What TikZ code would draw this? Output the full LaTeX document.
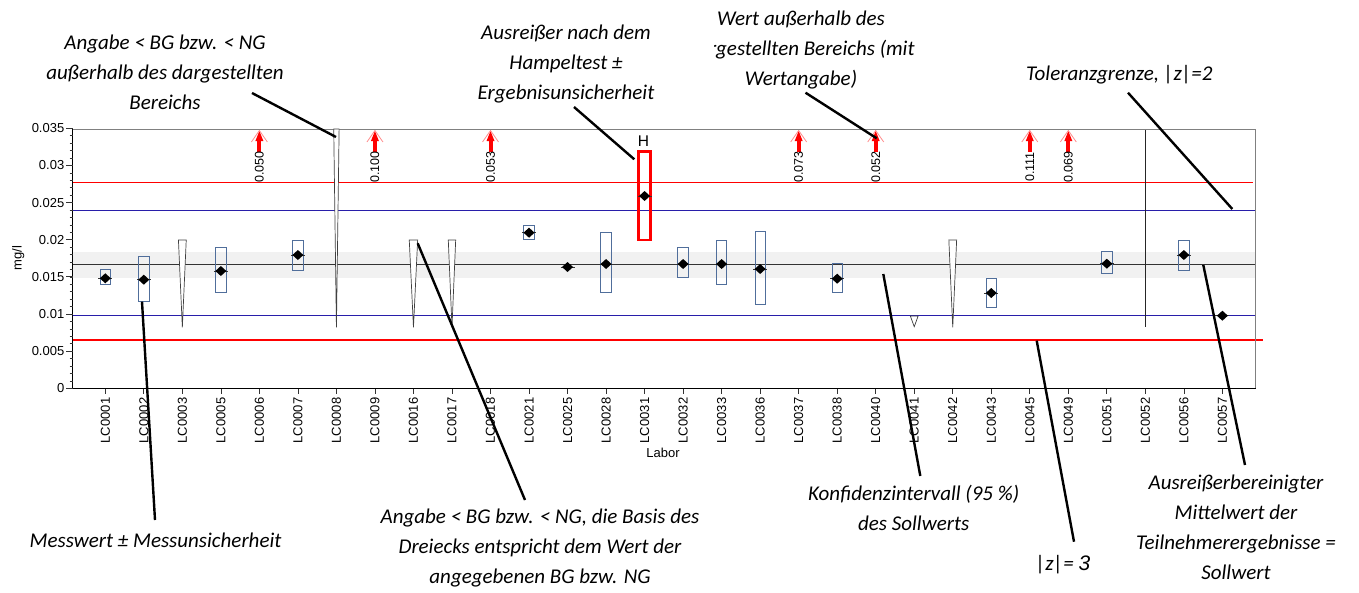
\documentclass[tikz,border=0pt]{standalone}
\usepackage{fontspec}
\setmainfont{Carlito}
\newfontfamily\axisfont{Liberation Sans}
\usetikzlibrary{calc}
\definecolor{zblue}{RGB}{40,30,170}
\definecolor{boxblue}{RGB}{80,110,155}
\definecolor{bandgray}{RGB}{241,241,241}
\pgfmathdeclarefunction{cx}{1}{\pgfmathparse{105.3+38.52*#1}}
\newcommand\mkdia[2]{%
  \draw[black!80,line width=0.6pt] ({cx(#1)-7},#2) -- ({cx(#1)+7},#2);
  \fill[black] ({cx(#1)},{#2-5}) -- ({cx(#1)+5.5},#2) -- ({cx(#1)},{#2+5}) -- ({cx(#1)-5.5},#2) -- cycle;}
\newcommand\mkbox[4]{%
  \draw[ubox] ({cx(#1)-5.2},#2) rectangle ({cx(#1)+5.2},#3);
  \mkdia{#1}{#4}}
\newcommand\mktri[4]{%
  \draw[tri] ({cx(#1)-#2},#3) -- ({cx(#1)+#2},#3) -- ({cx(#1)},#4) -- cycle;}
\newcommand\mkarrow[2]{%
  \fill[red] ({cx(#1)-2},152) rectangle ({cx(#1)+2},140);
  \fill[red] ({cx(#1)-4},141) -- ({cx(#1)},131) -- ({cx(#1)+4},141) -- cycle;
  \draw[red!45,line width=0.8pt] ({cx(#1)-8},142) -- ({cx(#1)},130.5) -- ({cx(#1)+8},142);
  \node[vlab,rotate=90] (arr#1) at ({cx(#1)},167) {#2};}
\begin{document}
\begin{tikzpicture}[x=1pt,y=-1pt,
  note/.style={font=\fontsize{21}{30}\selectfont\itshape,align=center,inner sep=0pt},
  conn/.style={line width=2.4pt,black},
  axl/.style={font=\axisfont\fontsize{13}{13}\selectfont,inner sep=0pt},
  vlab/.style={font=\axisfont\fontsize{12.5}{12.5}\selectfont,inner sep=0pt},
  ubox/.style={draw=boxblue,line width=0.9pt},
  tri/.style={draw=black!75,fill=white,line width=0.7pt}]
\useasboundingbox (0,0) rectangle (1359,592);
% confidence band
\fill[bandgray] (72.7,252.3) rectangle (1255.7,278.3);
% limit lines
\draw[red,line width=1.2pt] (72.7,182.7) -- (1252.7,182.7);
\draw[red,line width=1.2pt] (72.7,340) -- (1263,340);
\draw[zblue,line width=1pt] (72.7,210) -- (1255.7,210);
\draw[zblue,line width=1pt] (72.7,315) -- (1255.7,315);
\draw[black!80,line width=0.8pt] (72.7,264.3) -- (1255.7,264.3);
% frame
\draw[black!50,line width=0.8pt] (72.7,129) -- (1255.7,129) -- (1255.7,388.7);
\draw[black,line width=1.5pt] (72.7,128) -- (72.7,388.7) -- (1255.7,388.7);
% y ticks
\foreach \k in {0,...,35} {\draw[black!80,line width=0.6pt] (69.5,{388.3-7.4286*\k}) -- (72.7,{388.3-7.4286*\k});}
\foreach \k/\t in {0/0,1/0.005,2/0.01,3/0.015,4/0.02,5/0.025,6/0.03,7/0.035} {
  \draw[black!80,line width=0.8pt] (66,{388.3-37.143*\k}) -- (72.7,{388.3-37.143*\k});
  \node[axl,anchor=east] (yl\k) at (64.5,{388.3-37.143*\k}) {\t};}
\node[axl,rotate=90] (ylab) at (18.3,258) {mg/l};
% x ticks and labels
\foreach \lab [count=\i from 0] in {LC0001,LC0002,LC0003,LC0005,LC0006,LC0007,LC0008,LC0009,LC0016,LC0017,LC0018,LC0021,LC0025,LC0028,LC0031,LC0032,LC0033,LC0036,LC0037,LC0038,LC0040,LC0041,LC0042,LC0043,LC0045,LC0049,LC0051,LC0052,LC0056,LC0057} {
  \draw[black!80,line width=0.7pt] ({cx(\i)},388.7) -- ({cx(\i)},394);
  \node[axl,rotate=90,anchor=east] (lab\i) at ({cx(\i)},397.5) {\lab};}
\node[axl] (xlab) at (663,453) {Labor};
% triangles (< BG / < NG)
\mktri{2}{3.9}{240}{327.3}
\mktri{6}{2.7}{129}{327.3}
\mktri{8}{4.2}{240}{327.3}
\mktri{9}{3.7}{240}{327}
\mktri{21}{3.9}{316}{326.7}
\mktri{22}{3.9}{240}{327.3}
\draw[black!85,line width=1pt] ({cx(27)},130) -- ({cx(27)},327.3);
% measured values with uncertainty
\mkbox{0}{269.7}{284.3}{278.3}
\mkbox{1}{256}{301}{279.7}
\mkbox{3}{247.3}{292}{271}
\mkbox{5}{240}{270}{255}
\mkbox{11}{225.3}{239}{232.7}
\mkdia{12}{267}
\mkbox{13}{232.7}{292}{264}
\mkbox{15}{247.3}{277.3}{264}
\mkbox{16}{240}{284.7}{264}
\mkbox{17}{231.3}{304.3}{269}
\mkbox{19}{263.3}{292}{278.7}
\mkbox{23}{278.3}{307}{293}
\mkbox{26}{251}{273.7}{263.7}
\mkbox{28}{240}{270.3}{255}
\mkdia{29}{315.7}
% outlier
\draw[red,line width=2.6pt] (638.5,151.7) rectangle (650.5,240);
\mkdia{14}{196}
\node[font=\axisfont\fontsize{15.5}{15.5}\selectfont,inner sep=0pt] (hmark) at (643.5,141.5) {H};
% values outside range
\mkarrow{4}{0.050}
\mkarrow{7}{0.100}
\mkarrow{10}{0.053}
\mkarrow{18}{0.073}
\mkarrow{20}{0.052}
\mkarrow{24}{0.111}
\mkarrow{25}{0.069}
% annotations
\node[note] (t1) at (165,72) {Angabe < BG bzw. < NG\\außerhalb des dargestellten\\Bereichs};
\node[note] (t3) at (801,50) {Wert außerhalb des\\dargestellten Bereichs (mit\\Wertangabe)};
\node[note,fill=white,minimum width=296pt,minimum height=96pt] (t2) at (566,64) {Ausreißer nach dem\\Hampeltest ±\\Ergebnisunsicherheit};
\node[note] (t4) at (1119.4,75) {Toleranzgrenze, |z|=2};
\node[note] (t5) at (155.5,540) {Messwert ± Messunsicherheit};
\node[note] (t6) at (540,548) {Angabe < BG bzw. < NG, die Basis des\\Dreiecks entspricht dem Wert der\\angegebenen BG bzw. NG};
\node[note] (t7) at (913.7,508) {Konfidenzintervall (95 \%)\\des Sollwerts};
\node[note] (t8) at (1063,565) {|z|= {\axisfont\itshape 3}};
\node[note] (t9) at (1236,527) {Ausreißerbereinigter\\Mittelwert der\\Teilnehmerergebnisse =\\Sollwert};
% connector ends
\coordinate (s1) at (252,93);     \coordinate (e1) at (336,137);
\coordinate (s2) at (574,107);    \coordinate (e2) at (634.3,159.3);
\coordinate (s3) at (805.5,92.7); \coordinate (e3) at (876.7,138.3);
\coordinate (s4) at (1128,92.7);  \coordinate (e4) at (1232.3,209);
\coordinate (s5) at (155,520);    \coordinate (e5) at (142,301.7);
\coordinate (s6) at (525,500);    \coordinate (e6) at (417.7,243.3);
\coordinate (s7) at (920.3,476);  \coordinate (e7) at (883.3,274);
\coordinate (s8) at (1074,541.7); \coordinate (e8) at (1036.7,340.7);
\coordinate (s9) at (1245,465);   \coordinate (e9) at (1203.3,265);
\foreach \n in {1,...,9} {\draw[conn] (s\n) -- (e\n);}
\end{tikzpicture}
\end{document}
